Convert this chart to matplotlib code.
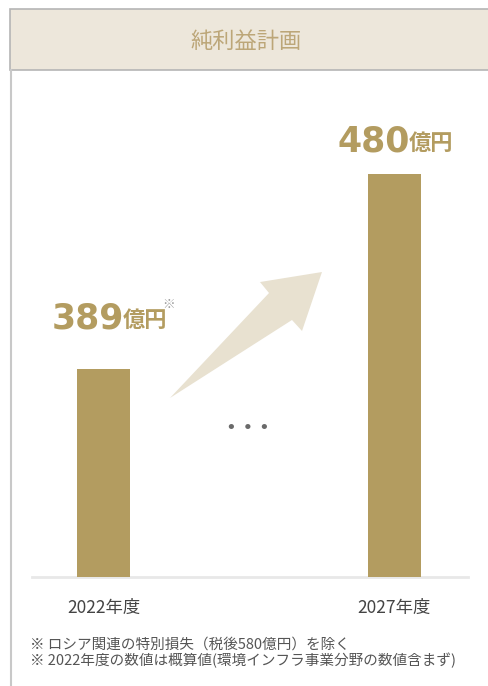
import matplotlib
matplotlib.use("Agg")
import matplotlib.pyplot as plt
from matplotlib.patches import Rectangle, Polygon
from matplotlib.lines import Line2D

# ---- data ----
categories = ["2022年度", "2027年度"]
values = [389, 480]
value_labels = ["389", "480"]
unit_label = "億円"
title = "純利益計画"
footnotes = ["※ ロシア関連の特別損失（税後580億円）を除く",
             "※ 2022年度の数値は概算値(環境インフラ事業分野の数値含まず)"]

W, H = 489, 686
fig = plt.figure(figsize=(W / 100, H / 100), dpi=100)
fig.patch.set_facecolor("white")

def fx(x):
    return x / W

def fy(y):
    return 1 - y / H

CJK = ["Noto Sans CJK JP", "DejaVu Sans"]
BAR = "#b39c60"
GOLD = "#b39c60"

# header box and frame
fig.patches.append(Rectangle((fx(10), fy(70)), fx(500) - fx(10), fy(9) - fy(70),
                             transform=fig.transFigure, facecolor="#ede7db",
                             edgecolor="#b5b5b5", linewidth=1.2))
fig.lines.append(Line2D([fx(10.5), fx(10.5)], [fy(70), 0], transform=fig.transFigure,
                        color="#c8c8c8", linewidth=1.5))
fig.text(fx(246), fy(41), title, ha="center", va="center", fontsize=16,
         color="#bca678", family=CJK)

# axes
ax_l, ax_r, ax_t, ax_b = 32, 468, 100, 577
ax = fig.add_axes([fx(ax_l), fy(ax_b), fx(ax_r) - fx(ax_l), fy(ax_t) - fy(ax_b)])
ax.set_facecolor("none")
xs = list(range(len(values)))
ax.bar(xs, values, width=0.182, color=BAR, zorder=3)
ax.set_xlim(-0.2457, 1.2526)
ax.set_ylim(291.93, 514.5)
for s in ["top", "right", "left"]:
    ax.spines[s].set_visible(False)
ax.spines["bottom"].set_color("#e8e8e8")
ax.spines["bottom"].set_linewidth(2)
ax.set_yticks([])
ax.set_xticks(xs)
ax.set_xticklabels(categories, family=CJK, fontsize=12.5, color="#444444")
ax.tick_params(axis="x", length=0, pad=16)

# value labels
offsets = [(-51.5, 40), (-56.5, 22)]
for x, v, lab, (dx, dy) in zip(xs, values, value_labels, offsets):
    t = ax.annotate(lab, (x, v), xytext=(dx * 0.72, dy * 0.72), textcoords="offset points",
                    ha="left", va="baseline", fontsize=25, fontweight="heavy",
                    color=GOLD, family="DejaVu Sans")
    u = ax.annotate(unit_label, (1, 0), xycoords=t, xytext=(-1.5, 3), textcoords="offset points",
                    ha="left", va="bottom", fontsize=16, fontweight="bold",
                    color=GOLD, family=CJK)
    if x == 0:
        ax.annotate("※", (1, 1), xycoords=u, xytext=(-3, 8), textcoords="offset points",
                    ha="left", va="top", fontsize=9, color="#9a9a9a", family=CJK)

# arrow (axes fraction)
arrow_pts = [(0.3165, 0.3753), (0.5436, 0.5954), (0.5229, 0.6184), (0.6651, 0.6394),
             (0.6193, 0.5157), (0.5963, 0.5388)]
ax.add_patch(Polygon(arrow_pts, closed=True, transform=ax.transAxes,
                     facecolor="#e8e1d0", edgecolor="none", zorder=2))

# dots
ax.text(0.496, 0.312, "• • •", transform=ax.transAxes,
        ha="center", va="center", fontsize=13, color="#6a6a6a")

# footnotes
fig.text(fx(30), fy(645), footnotes[0], ha="left", va="center", fontsize=10.5,
         color="#555555", family=CJK)
fig.text(fx(30), fy(660), footnotes[1], ha="left", va="center", fontsize=10.5,
         color="#555555", family=CJK)

fig.savefig("out.png", dpi=100)
